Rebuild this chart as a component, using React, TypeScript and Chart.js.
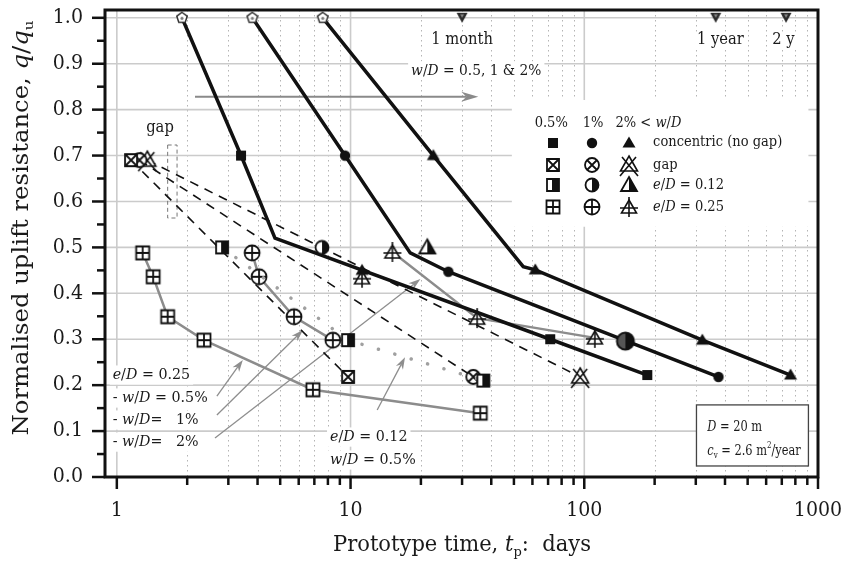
import { useEffect, useRef } from 'react';
import { Chart, registerables } from 'chart.js';
Chart.register(...registerables);

const FONT = '"DejaVu Serif", serif';
const INK = '#1a1a1a';

// ---------- data (prototype time in days, q/qu) ----------
// concentric (no gap)
const conc05T = [1.9, 3.4, 4.75, 71.5, 186];
const conc05Q = [1.0, 0.7, 0.52, 0.3, 0.222];
const conc1T = [3.8, 9.47, 18.0, 26.2, 375];
const conc1Q = [1.0, 0.7, 0.488, 0.447, 0.218];
const conc2T = [7.6, 22.6, 54.8, 61.7, 320, 763];
const conc2Q = [1.0, 0.7, 0.458, 0.451, 0.298, 0.222];
const extraTriT = [11.2];
const extraTriQ = [0.45];
// gap
const gap05T = [1.15, 9.76];
const gap05Q = [0.69, 0.218];
const gap1T = [1.25, 33.5];
const gap1Q = [0.69, 0.218];
const gap2T = [1.35, 96];
const gap2Q = [0.69, 0.218];
// e/D = 0.12
const e12w05T = [2.82, 9.76, 37];
const e12w05Q = [0.5, 0.298, 0.21];
const e12w1T = [7.55, 150];
const e12w1Q = [0.5, 0.296];
const e12w2T = [21.3];
const e12w2Q = [0.5];
// e/D = 0.25
const e25w05T = [1.29, 1.43, 1.65, 2.36, 6.9, 35.9];
const e25w05Q = [0.488, 0.436, 0.349, 0.298, 0.19, 0.139];
const e25w1T = [3.79, 4.06, 5.73, 8.4];
const e25w1Q = [0.488, 0.436, 0.349, 0.298];
const e25w2T = [15.1, 34.8, 111];
const e25w2Q = [0.49, 0.346, 0.303];
const e25w2ExtraT = [11.2];
const e25w2ExtraQ = [0.434];
// time marks
const timeMarkT = [30, 365, 730];
const timeMarkQ = [1.0, 1.0, 1.0];
const timeMarkLabels = ['1 month', '1 year', '2 y'];
const timeLabelT = [30, 382, 711];

// axes
const xTickVals = [1, 10, 100, 1000];
const xTickLabels = ['1', '10', '100', '1000'];
const xMinorVals = [2, 3, 4, 5, 6, 7, 8, 9, 20, 30, 40, 50, 60, 70, 80, 90, 200, 300, 400, 500, 600, 700, 800, 900];
const yTickVals = [0, 0.1, 0.2, 0.3, 0.4, 0.5, 0.6, 0.7, 0.8, 0.9, 1.0];
const yTickLabels = ['0.0', '0.1', '0.2', '0.3', '0.4', '0.5', '0.6', '0.7', '0.8', '0.9', '1.0'];
const yMinorVals = [0.05, 0.15, 0.25, 0.35, 0.45, 0.55, 0.65, 0.75, 0.85, 0.95];

const xTitle = 'Prototype time, *t*_{p}:  days';
const yTitle = 'Normalised uplift resistance, *q*/*q*_{u}';

// ---------- rich text helpers ----------
type Seg = { s: string; it: boolean; sub: boolean; sup: boolean };
function parse(str: string): Seg[] {
  const segs: Seg[] = [];
  let it = false;
  let buf = '';
  let i = 0;
  const flush = () => {
    if (buf) segs.push({ s: buf, it, sub: false, sup: false });
    buf = '';
  };
  while (i < str.length) {
    const ch = str[i];
    if (ch === '*') { flush(); it = !it; i++; continue; }
    if ((ch === '_' || ch === '^') && str[i + 1] === '{') {
      flush();
      const end = str.indexOf('}', i);
      segs.push({ s: str.slice(i + 2, end), it: false, sub: ch === '_', sup: ch === '^' });
      i = end + 1;
      continue;
    }
    buf += ch;
    i++;
  }
  flush();
  return segs;
}
function fontOf(seg: Seg, size: number) {
  const sz = seg.sub || seg.sup ? size * 0.62 : size;
  return `${seg.it ? 'italic ' : ''}${sz}px ${FONT}`;
}
function measureRich(ctx: CanvasRenderingContext2D, str: string, size: number, sx = 1) {
  let w = 0;
  for (const seg of parse(str)) { ctx.font = fontOf(seg, size); w += ctx.measureText(seg.s).width; }
  return w * sx;
}
function drawRich(ctx: CanvasRenderingContext2D, str: string, x: number, y: number, size: number, align: string, sx = 1, color = INK) {
  const w = measureRich(ctx, str, size, sx);
  let cx = align === 'center' ? x - w / 2 : align === 'right' ? x - w : x;
  ctx.fillStyle = color;
  ctx.textBaseline = 'middle';
  ctx.textAlign = 'left';
  for (const seg of parse(str)) {
    ctx.font = fontOf(seg, size);
    const dy = seg.sub ? size * 0.32 : seg.sup ? -size * 0.38 : 0;
    ctx.save();
    ctx.translate(cx, y + dy);
    ctx.scale(sx, 1);
    ctx.fillText(seg.s, 0, 0);
    ctx.restore();
    cx += ctx.measureText(seg.s).width * sx;
  }
}
function richRect(ctx: CanvasRenderingContext2D, str: string, x: number, y: number, size: number, align: string, sx = 1) {
  const w = measureRich(ctx, str, size, sx);
  const x0 = align === 'center' ? x - w / 2 : align === 'right' ? x - w : x;
  return { x: x0 - 3, y: y - size * 0.62, w: w + 6, h: size * 1.24 };
}

// annotation texts: [text, t, q, size, align, maskBackground, horizontal scale]
const notes: [string, number, number, number, string, boolean, number][] = [
  ['gap', 1.53, 0.76, 16, 'center', false, 0.92],
  ['*w*/*D* = 0.5, 1 & 2%', 34.5, 0.885, 15, 'center', true, 0.92],
  ['*e*/*D* = 0.25', 0.96, 0.222, 15.5, 'left', true, 0.92],
  ['- *w*/*D* = 0.5%', 0.96, 0.172, 15.5, 'left', true, 0.92],
  ['- *w*/*D*=   1%', 0.96, 0.124, 15.5, 'left', true, 0.92],
  ['- *w*/*D*=   2%', 0.96, 0.076, 15.5, 'left', true, 0.92],
  ['*e*/*D* = 0.12', 8.17, 0.087, 15.5, 'left', true, 0.92],
  ['*w*/*D* = 0.5%', 8.17, 0.037, 15.5, 'left', true, 0.92],
];
// legend layout (data coords)
const legendHeader: [string, number, string][] = [['0.5%', 72.2, 'center'], ['1%', 109, 'center'], ['2% < *w*/*D*', 136, 'left']];
const legendHeaderQ = 0.771;
const legendColT = [73.7, 108, 156];
const legendRowQ = [0.728, 0.68, 0.636, 0.588];
const legendRowText = ['concentric (no gap)', 'gap', '*e*/*D* = 0.12', '*e*/*D* = 0.25'];
const legendTextT = 197;
const legendBoxT = [49, 910];
const legendBoxQ = [0.821, 0.545];
// info box
const infoBoxT = [302, 910];
const infoBoxQ = [0.157, 0.024];
const infoText = ['*D* = 20 m', '*c*_{v} = 2.6 m^{2}/year'];
const infoTextT = 336;
const infoTextQ = [0.109, 0.057];
// arrows [t1,q1,t2,q2]
const topArrow = [2.16, 0.828, 35.2, 0.828];
const pointerArrows = [
  [2.68, 0.176, 3.46, 0.255],
  [2.68, 0.135, 6.26, 0.32],
  [2.63, 0.085, 19.9, 0.431],
  [13.0, 0.146, 17.1, 0.261],
];
const gapRectT = [1.65, 1.81];
const gapRectQ = [0.564, 0.723];

// ---------- markers ----------
function mk(size: number, draw: (c: CanvasRenderingContext2D) => void) {
  const cv = document.createElement('canvas');
  cv.width = size;
  cv.height = size;
  const c = cv.getContext('2d')!;
  c.translate(size / 2, size / 2);
  c.lineJoin = 'miter';
  c.strokeStyle = '#111';
  c.fillStyle = '#111';
  c.lineWidth = 1.8;
  draw(c);
  return cv;
}
function tri(c: CanvasRenderingContext2D, h: number, w: number, yTop: number) {
  c.beginPath();
  c.moveTo(0, yTop);
  c.lineTo(w, yTop + h);
  c.lineTo(-w, yTop + h);
  c.closePath();
}
function makeMarkers() {
  const white = (c: CanvasRenderingContext2D) => { c.fillStyle = '#fff'; c.fill(); c.fillStyle = '#111'; };
  return {
    sqFill: mk(14, (c) => c.fillRect(-5, -5, 10, 10)),
    circFill: mk(14, (c) => { c.beginPath(); c.arc(0, 0, 5.2, 0, Math.PI * 2); c.fill(); }),
    triFill: mk(16, (c) => { tri(c, 11, 6.5, -6.5); c.fill(); }),
    sqX: mk(18, (c) => {
      c.beginPath(); c.rect(-6, -6, 12, 12); white(c); c.stroke();
      c.beginPath(); c.moveTo(-6, -6); c.lineTo(6, 6); c.moveTo(6, -6); c.lineTo(-6, 6); c.stroke();
    }),
    circX: mk(18, (c) => {
      c.beginPath(); c.arc(0, 0, 7, 0, Math.PI * 2); white(c); c.stroke();
      c.beginPath(); c.moveTo(-5, -5); c.lineTo(5, 5); c.moveTo(5, -5); c.lineTo(-5, 5); c.stroke();
    }),
    triX: mk(26, (c) => {
      c.lineWidth = 1.6;
      tri(c, 15, 8.5, -9); white(c); c.stroke();
      c.beginPath(); c.moveTo(-7, -8); c.lineTo(9, 11); c.moveTo(7, -8); c.lineTo(-9, 11); c.stroke();
    }),
    sqHalf: mk(18, (c) => {
      c.beginPath(); c.rect(-6, -6, 12, 12); white(c);
      c.fillRect(-1, -6, 7, 12); c.stroke();
    }),
    circHalf: mk(18, (c) => {
      c.beginPath(); c.arc(0, 0, 6.5, 0, Math.PI * 2); white(c);
      c.beginPath(); c.arc(0, 0, 6.5, -Math.PI / 2, Math.PI / 2); c.closePath(); c.fill();
      c.beginPath(); c.arc(0, 0, 6.5, 0, Math.PI * 2); c.stroke();
    }),
    circHalfBig: mk(22, (c) => {
      c.lineWidth = 2;
      c.beginPath(); c.arc(0, 0, 8.5, 0, Math.PI * 2); c.fillStyle = '#555'; c.fill(); c.fillStyle = '#111';
      c.beginPath(); c.arc(0, 0, 8.5, -Math.PI / 2, Math.PI / 2); c.closePath(); c.fill();
      c.beginPath(); c.arc(0, 0, 8.5, 0, Math.PI * 2); c.stroke();
    }),
    triHalf: mk(22, (c) => {
      tri(c, 14, 8, -8); white(c);
      c.beginPath(); c.moveTo(0, -8); c.lineTo(8, 6); c.lineTo(0, 6); c.closePath(); c.fill();
      tri(c, 14, 8, -8); c.stroke();
    }),
    sqPlus: mk(18, (c) => {
      c.beginPath(); c.rect(-6.5, -6.5, 13, 13); white(c); c.stroke();
      c.beginPath(); c.moveTo(0, -6.5); c.lineTo(0, 6.5); c.moveTo(-6.5, 0); c.lineTo(6.5, 0); c.stroke();
    }),
    circPlus: mk(20, (c) => {
      c.beginPath(); c.arc(0, 0, 7.5, 0, Math.PI * 2); white(c); c.stroke();
      c.beginPath(); c.moveTo(0, -7.5); c.lineTo(0, 7.5); c.moveTo(-7.5, 0); c.lineTo(7.5, 0); c.stroke();
    }),
    triPlus: mk(24, (c) => {
      c.lineWidth = 1.6;
      tri(c, 13, 7.5, -7); white(c); c.stroke();
      c.beginPath(); c.moveTo(0, -10); c.lineTo(0, 10); c.moveTo(-9, 1); c.lineTo(9, 1); c.stroke();
    }),
    pent: mk(16, (c) => {
      c.lineWidth = 1.5;
      c.strokeStyle = '#333';
      c.beginPath();
      for (let k = 0; k < 5; k++) {
        const a = -Math.PI / 2 + (k * 2 * Math.PI) / 5;
        const px = 5.5 * Math.cos(a), py = 5.5 * Math.sin(a);
        if (k === 0) c.moveTo(px, py); else c.lineTo(px, py);
      }
      c.closePath(); white(c); c.stroke();
      c.fillStyle = '#777'; c.beginPath(); c.arc(0, 0.5, 1.6, 0, Math.PI * 2); c.fill();
    }),
    invTri: mk(14, (c) => {
      c.fillStyle = '#2a2a2a';
      c.beginPath(); c.moveTo(-5.5, -5); c.lineTo(5.5, -5); c.lineTo(0, 5); c.closePath(); c.fill();
      c.fillStyle = '#888'; c.beginPath(); c.moveTo(-2, -3.5); c.lineTo(2, -3.5); c.lineTo(0, 0); c.closePath(); c.fill();
    }),
  };
}

const pts = (T: number[], Q: number[]) => T.map((t, i) => ({ x: t, y: Q[i] }));

function arrow(ctx: CanvasRenderingContext2D, x1: number, y1: number, x2: number, y2: number, lw: number, head: number, hw: number, color: string) {
  const ang = Math.atan2(y2 - y1, x2 - x1);
  const bx = x2 - head * Math.cos(ang), by = y2 - head * Math.sin(ang);
  ctx.strokeStyle = color;
  ctx.fillStyle = color;
  ctx.lineWidth = lw;
  ctx.setLineDash([]);
  ctx.beginPath(); ctx.moveTo(x1, y1); ctx.lineTo(bx + 0.3 * head * Math.cos(ang), by + 0.3 * head * Math.sin(ang)); ctx.stroke();
  ctx.beginPath();
  ctx.moveTo(x2, y2);
  ctx.lineTo(bx + hw * Math.sin(ang), by - hw * Math.cos(ang));
  ctx.lineTo(bx + 0.3 * head * Math.cos(ang), by + 0.3 * head * Math.sin(ang));
  ctx.lineTo(bx - hw * Math.sin(ang), by + hw * Math.cos(ang));
  ctx.closePath();
  ctx.fill();
}

export default function App() {
  const ref = useRef<HTMLCanvasElement>(null);
  useEffect(() => {
    const M = makeMarkers();
    const legendMarkers = [
      [M.sqFill, M.circFill, M.triFill],
      [M.sqX, M.circX, M.triX],
      [M.sqHalf, M.circHalf, M.triHalf],
      [M.sqPlus, M.circPlus, M.triPlus],
    ];

    const decor = {
      id: 'decor',
      beforeDatasetsDraw(chart: any) {
        const { ctx, chartArea: a, scales } = chart;
        const X = (v: number) => scales.x.getPixelForValue(v);
        const Y = (v: number) => scales.y.getPixelForValue(v);
        ctx.save();
        // minor vertical dotted grid
        ctx.strokeStyle = '#b4b4b4';
        ctx.lineWidth = 1;
        ctx.setLineDash([1.5, 3.5]);
        for (const v of xMinorVals) {
          const px = Math.round(X(v)) + 0.5;
          ctx.beginPath(); ctx.moveTo(px, a.top); ctx.lineTo(px, a.bottom); ctx.stroke();
        }
        ctx.setLineDash([]);
        ctx.strokeStyle = '#cbcbcb';
        ctx.lineWidth = 1.6;
        for (const v of xTickVals) {
          const px = X(v);
          ctx.beginPath(); ctx.moveTo(px, a.top); ctx.lineTo(px, a.bottom); ctx.stroke();
        }
        for (const v of yTickVals) {
          const py = Y(v);
          ctx.beginPath(); ctx.moveTo(a.left, py); ctx.lineTo(a.right, py); ctx.stroke();
        }
        // white masks
        ctx.fillStyle = '#fff';
        ctx.fillRect(X(legendBoxT[0]), Y(legendBoxQ[0]), X(legendBoxT[1]) - X(legendBoxT[0]), Y(legendBoxQ[1]) - Y(legendBoxQ[0]));
        for (const [s, t, q, size, align, bg, sx] of notes) {
          if (!bg) continue;
          const r = richRect(ctx, s, X(t), Y(q), size, align, sx);
          ctx.fillRect(r.x, r.y, r.w, r.h);
        }
        timeMarkLabels.forEach((s, i) => {
          const r = richRect(ctx, s, X(timeLabelT[i]), Y(0.952), 16, 'center', 0.92);
          ctx.fillStyle = '#fff';
          ctx.fillRect(r.x, r.y + 2, r.w, r.h - 4);
        });
        // gap rectangle
        ctx.strokeStyle = '#777';
        ctx.lineWidth = 1;
        ctx.setLineDash([4, 3]);
        ctx.strokeRect(X(gapRectT[0]), Y(gapRectQ[1]), X(gapRectT[1]) - X(gapRectT[0]), Y(gapRectQ[0]) - Y(gapRectQ[1]));
        ctx.setLineDash([]);
        // arrows
        arrow(ctx, X(topArrow[0]), Y(topArrow[1]), X(topArrow[2]), Y(topArrow[3]), 2, 17, 5, '#8a8a8a');
        for (const p of pointerArrows) arrow(ctx, X(p[0]), Y(p[1]), X(p[2]), Y(p[3]), 1.3, 12, 4, '#8e8e8e');
        ctx.restore();
      },
      afterDatasetsDraw(chart: any) {
        const { ctx, chartArea: a, scales } = chart;
        const X = (v: number) => scales.x.getPixelForValue(v);
        const Y = (v: number) => scales.y.getPixelForValue(v);
        ctx.save();
        // frame
        ctx.strokeStyle = '#111';
        ctx.lineWidth = 3;
        ctx.strokeRect(a.left, a.top, a.right - a.left, a.bottom - a.top);
        // ticks
        ctx.lineWidth = 2.5;
        for (const v of yTickVals) { const py = Y(v); ctx.beginPath(); ctx.moveTo(a.left - 13, py); ctx.lineTo(a.left, py); ctx.stroke(); }
        for (const v of yMinorVals) { const py = Y(v); ctx.beginPath(); ctx.moveTo(a.left - 8, py); ctx.lineTo(a.left, py); ctx.stroke(); }
        for (const v of xTickVals) { const px = X(v); ctx.beginPath(); ctx.moveTo(px, a.bottom); ctx.lineTo(px, a.bottom + 12); ctx.stroke(); }
        for (const v of xMinorVals) { const px = X(v); ctx.beginPath(); ctx.moveTo(px, a.bottom); ctx.lineTo(px, a.bottom + 8); ctx.stroke(); }
        // tick labels
        yTickVals.forEach((v, i) => drawRich(ctx, yTickLabels[i], a.left - 22, Y(v), 20, 'right', 0.95));
        xTickVals.forEach((v, i) => drawRich(ctx, xTickLabels[i], X(v), a.bottom + 34, 20, 'center', 0.95));
        // titles
        const xsx = 258 / measureRich(ctx, xTitle, 22);
        drawRich(ctx, xTitle, 462, a.bottom + 68, 22, 'center', xsx);
        const ysx = 415 / measureRich(ctx, yTitle, 22);
        ctx.save();
        ctx.translate(a.left - 83, 228);
        ctx.rotate(-Math.PI / 2);
        drawRich(ctx, yTitle, 0, 0, 22, 'center', ysx);
        ctx.restore();
        // notes
        for (const [s, t, q, size, align, , sx] of notes) drawRich(ctx, s, X(t), Y(q), size, align, sx);
        timeMarkLabels.forEach((s, i) => drawRich(ctx, s, X(timeLabelT[i]), Y(0.952), 16, 'center', 0.92));
        // legend
        legendHeader.forEach(([s, t, al]) => drawRich(ctx, s, X(t), Y(legendHeaderQ), 14.5, al, 0.9));
        legendRowQ.forEach((q, r) => {
          legendColT.forEach((t, c) => {
            const img = legendMarkers[r][c];
            ctx.drawImage(img, Math.round(X(t) - img.width / 2), Math.round(Y(q) - img.height / 2));
          });
          drawRich(ctx, legendRowText[r], X(legendTextT), Y(q), 14.5, 'left', 0.9);
        });
        // info box
        const bx = X(infoBoxT[0]), by = Y(infoBoxQ[0]);
        const bw = X(infoBoxT[1]) - bx, bh = Y(infoBoxQ[1]) - by;
        ctx.fillStyle = '#fff';
        ctx.fillRect(bx, by, bw, bh);
        ctx.strokeStyle = '#444';
        ctx.lineWidth = 1.3;
        ctx.strokeRect(bx, by, bw, bh);
        infoText.forEach((s, i) => drawRich(ctx, s, X(infoTextT), Y(infoTextQ[i]), 15, 'left', 0.76));
        ctx.restore();
      },
    };

    const black = '#111';
    const gray = '#8c8c8c';
    const chart = new Chart(ref.current!, {
      type: 'scatter',
      data: {
        datasets: [
          { data: pts(timeMarkT, timeMarkQ), showLine: false, pointStyle: M.invTri, pointRadius: 5, order: 0 } as any,
          { data: pts(e12w1T, e12w1Q), showLine: false, pointStyle: [M.circHalf, M.circHalfBig], pointRadius: 6, order: 1 },
          { data: pts(e12w2T, e12w2Q), showLine: false, pointStyle: M.triHalf, pointRadius: 6, order: 1 },
          { data: pts(extraTriT, extraTriQ), showLine: false, pointStyle: M.triFill, pointRadius: 6, order: 1 },
          {
            data: pts(conc05T, conc05Q), showLine: true, borderColor: black, borderWidth: 3.5,
            pointStyle: [M.pent, M.sqFill, M.sqFill, M.sqFill, M.sqFill], pointRadius: [5, 5, 0, 5, 5], order: 2,
          },
          {
            data: pts(conc1T, conc1Q), showLine: true, borderColor: black, borderWidth: 3.5,
            pointStyle: [M.pent, M.circFill, M.circFill, M.circFill, M.circFill], pointRadius: [5, 5, 0, 5, 5], order: 2,
          },
          {
            data: pts(conc2T, conc2Q), showLine: true, borderColor: black, borderWidth: 3.5,
            pointStyle: [M.pent, M.triFill, M.triFill, M.triFill, M.triFill, M.triFill], pointRadius: [5, 5, 0, 5, 5, 5], order: 2,
          },
          { data: pts(e25w05T, e25w05Q), showLine: true, borderColor: gray, borderWidth: 2.5, pointStyle: M.sqPlus, pointRadius: 6, order: 4 },
          { data: pts(e25w1T, e25w1Q), showLine: true, borderColor: gray, borderWidth: 2.5, pointStyle: M.circPlus, pointRadius: 6, order: 4 },
          { data: pts(e25w2T, e25w2Q), showLine: true, borderColor: gray, borderWidth: 2.5, pointStyle: M.triPlus, pointRadius: 6, order: 4 },
          { data: pts(e25w2ExtraT, e25w2ExtraQ), showLine: false, pointStyle: M.triPlus, pointRadius: 6, order: 4 },
          { data: pts(e12w05T, e12w05Q), showLine: true, borderColor: '#a0a0a0', borderWidth: 3.5, borderDash: [0.1, 17], borderCapStyle: 'round', pointStyle: M.sqHalf, pointRadius: 6, order: 3 } as any,
          { data: pts(gap05T, gap05Q), showLine: true, borderColor: black, borderWidth: 1.6, borderDash: [9, 7], pointStyle: M.sqX, pointRadius: 6, order: 5 },
          { data: pts(gap1T, gap1Q), showLine: true, borderColor: black, borderWidth: 1.6, borderDash: [9, 7], pointStyle: M.circX, pointRadius: 6, order: 5 },
          { data: pts(gap2T, gap2Q), showLine: true, borderColor: black, borderWidth: 1.6, borderDash: [9, 7], pointStyle: M.triX, pointRadius: 6, order: 5 },
        ],
      },
      options: {
        animation: false,
        responsive: false,
        devicePixelRatio: 1,
        events: [],
        layout: { padding: { left: 105, right: 27, top: 10, bottom: 92 } },
        plugins: { legend: { display: false }, tooltip: { enabled: false } },
        scales: {
          x: { type: 'logarithmic', min: 0.89, max: 1000, display: false },
          y: { type: 'linear', min: 0, max: 1.017, display: false },
        },
      },
      plugins: [decor],
    } as any);
    return () => chart.destroy();
  }, []);

  return (
    <div style={{ position: 'fixed', left: 0, top: 0, width: 845, height: 569, background: '#fff' }}>
      <canvas ref={ref} width={845} height={569} style={{ display: 'block', width: 845, height: 569 }} />
    </div>
  );
}
